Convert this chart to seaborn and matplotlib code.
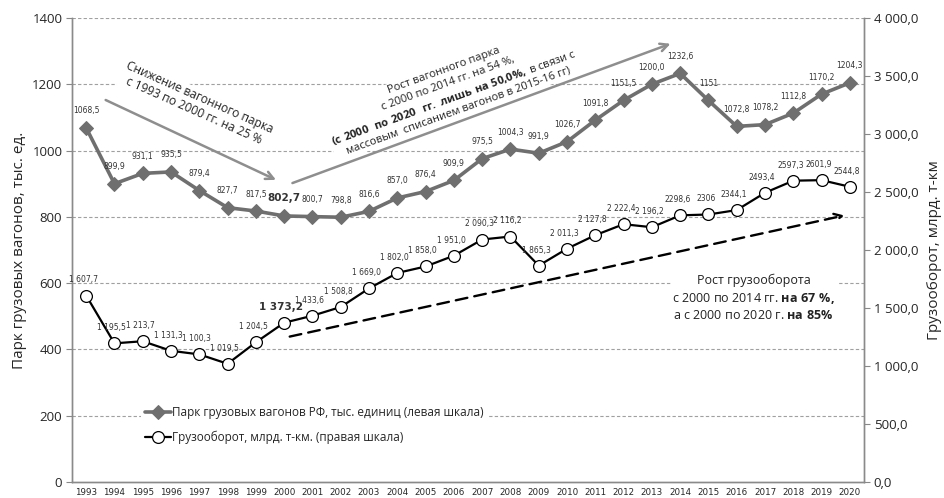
import numpy as np
import pandas as pd
import matplotlib
matplotlib.use("Agg")
import matplotlib.pyplot as plt
import seaborn as sns
from matplotlib.ticker import FuncFormatter

# --- data ---
years = list(range(1993, 2021))
fleet = [1068.5, 899.9, 931.1, 935.5, 879.4, 827.7, 817.5, 802.7, 800.7, 798.8,
         816.6, 857.0, 876.4, 909.9, 975.5, 1004.3, 991.9, 1026.7, 1091.8, 1151.5,
         1200.0, 1232.6, 1151.0, 1072.8, 1078.2, 1112.8, 1170.2, 1204.3]
turnover = [1607.7, 1195.5, 1213.7, 1131.3, 1100.3, 1019.5, 1204.5, 1373.2, 1433.6, 1508.8,
            1669.0, 1802.0, 1858.0, 1951.0, 2090.3, 2116.2, 1865.3, 2011.3, 2127.8, 2222.4,
            2196.2, 2298.6, 2306.0, 2344.1, 2493.4, 2597.3, 2601.9, 2544.8]
fleet_labels = ["1068,5", "899,9", "931,1", "935,5", "879,4", "827,7", "817,5", "802,7",
                "800,7", "798,8", "816,6", "857,0", "876,4", "909,9", "975,5", "1004,3",
                "991,9", "1026,7", "1091,8", "1151,5", "1200,0", "1232,6", "1151", "1072,8",
                "1078,2", "1112,8", "1170,2", "1204,3"]
turnover_labels = ["1 607,7", "1 195,5", "1 213,7", "1 131,3", "1 100,3", "1 019,5", "1 204,5",
                   "1 373,2", "1 433,6", "1 508,8", "1 669,0", "1 802,0", "1 858,0", "1 951,0",
                   "2 090,3", "2 116,2", "1 865,3", "2 011,3", "2 127,8", "2 222,4", "2 196,2",
                   "2298,6", "2306", "2344,1", "2493,4", "2597,3", "2601,9", "2544,8"]

df = pd.DataFrame({"year": years, "fleet": fleet, "turnover": turnover})

sns.set_style("white")
plt.rcParams["font.family"] = ["Open Sans", "DejaVu Sans"]
plt.rcParams["mathtext.fontset"] = "custom"
plt.rcParams["mathtext.rm"] = "Open Sans"
plt.rcParams["mathtext.bf"] = "Open Sans:bold"

fig = plt.figure(figsize=(9.44, 4.98), dpi=100)
ax = fig.add_axes([0.0763, 0.032, 0.839, 0.932])
ax2 = ax.twinx()

GRAY = "#6f6f6f"
ARROW_GRAY = "#8e8e8e"

# gridlines (left scale)
for v in range(200, 1401, 200):
    ax.axhline(v, color="#a0a0a0", lw=0.8, ls=(0, (3, 2)), zorder=0)

sns.lineplot(data=df, x="year", y="fleet", ax=ax, color=GRAY, lw=2.6, marker="D",
             markersize=7, markeredgecolor=GRAY, label="Парк грузовых вагонов РФ, тыс. единиц (левая шкала)",
             legend=False, zorder=3)
sns.lineplot(data=df, x="year", y="turnover", ax=ax2, color="black", lw=1.6, marker="o",
             markersize=8.5, markerfacecolor="white", markeredgecolor="black", markeredgewidth=0.9,
             label="Грузооборот, млрд. т-км. (правая шкала)", legend=False, zorder=3)

ax.set_xlim(1992.5, 2020.5)
ax.set_ylim(0, 1400)
ax2.set_ylim(0, 4000)

# value labels
for x, y, s in zip(years, fleet, fleet_labels):
    bold = s == "802,7"
    ax.annotate(s, (x, y), xytext=(0, 9), textcoords="offset points", ha="center", va="bottom",
                fontsize=7.5 if bold else 5.5, fontweight="bold" if bold else "normal",
                family="DejaVu Sans", color="#333333", zorder=5)
for x, y, s in zip(years, turnover, turnover_labels):
    bold = s == "1 373,2"
    ax2.annotate(s, (x, y), xytext=(-2, 8), textcoords="offset points", ha="center", va="bottom",
                 fontsize=7.5 if bold else 5.5, fontweight="bold" if bold else "normal",
                 family="DejaVu Sans", color="#333333", zorder=5)

# axes styling
ax.set_xticks(years)
ax.set_xticklabels([str(y) for y in years], fontsize=6.3, family="DejaVu Sans")
ax.set_xticks(np.arange(1992.5, 2021, 1), minor=True)
ax.tick_params(axis="x", which="major", length=0, pad=4)
ax.tick_params(axis="x", which="minor", length=4, color="#888888", direction="out")
ax.set_yticks(range(0, 1401, 200))
ax.tick_params(axis="y", labelsize=9.5, length=4, color="#888888", direction="out", pad=3)
ax2.set_yticks(range(0, 4001, 500))
ax2.yaxis.set_major_formatter(FuncFormatter(lambda v, p: f"{v:,.1f}".replace(",", " ").replace(".", ",")))
ax2.tick_params(axis="y", labelsize=9.5, length=4, color="#888888", direction="out", pad=3)
ax.set_xlabel("")
ax.set_ylabel("Парк грузовых вагонов, тыс. ед.", fontsize=11, labelpad=4)
ax2.set_ylabel("Грузооборот, млрд. т-км", fontsize=11, labelpad=6)
for a in (ax, ax2):
    a.spines["top"].set_visible(False)
    for sp in ("left", "right", "bottom"):
        a.spines[sp].set_color("#8a8a8a")
        a.spines[sp].set_linewidth(1.0)

# arrows
ax.annotate("", xy=(1999.8, 908), xytext=(1993.6, 1156),
            arrowprops=dict(arrowstyle="->", color=ARROW_GRAY, lw=1.8, mutation_scale=14), zorder=4)
ax.annotate("", xy=(2013.75, 1325), xytext=(2000.2, 899),
            arrowprops=dict(arrowstyle="->", color=ARROW_GRAY, lw=1.8, mutation_scale=14), zorder=4)
ax.annotate("", xy=(2019.9, 806), xytext=(2000.1, 437),
            arrowprops=dict(arrowstyle="->", color="black", lw=1.7, ls=(0, (5, 3)), mutation_scale=14),
            zorder=4)

box = dict(facecolor="white", edgecolor="none", pad=1)
ax.text(1996.9, 1140, "Снижение вагонного парка\nс 1993 по 2000 гг. на 25 %", rotation=-24,
        rotation_mode="anchor", ha="center", va="center", fontsize=8.6, color="#222222",
        linespacing=1.2, bbox=box, zorder=2)

txt2 = ("Рост вагонного парка\n"
        "с 2000 по 2014 гг. на 54 %,\n"
        r"$\bf{(с\ 2000\ \ по\ 2020\ \ гг.\ лишь\ на\ 50{,}0\%,}$ в связи с" "\n"
        "массовым  списанием вагонов в 2015-16 гг)")
ax.text(2005.9, 1180, txt2, rotation=20, rotation_mode="anchor", ha="center", va="center",
        fontsize=8, color="#222222", linespacing=1.3, multialignment="center", bbox=box, zorder=2)

txt3 = ("Рост грузооборота\n"
        r"с 2000 по 2014 гг. $\bf{на\ 67\ \%,}$" "\n"
        r"а с 2000 по 2020 г. $\bf{на\ 85\%}$")
ax.text(2016.6, 555, txt3, ha="center", va="center", fontsize=9, color="#222222",
        linespacing=1.35, multialignment="center", bbox=box, zorder=2)

# legend
h1, l1 = ax.get_legend_handles_labels()
h2, l2 = ax2.get_legend_handles_labels()
leg = ax2.legend(h1 + h2, l1 + l2, loc="upper left", bbox_to_anchor=(0.08, 0.185), fontsize=8.5,
                 frameon=True, handlelength=2.2, handletextpad=0.1, borderpad=0.3, labelspacing=1.0)
leg.get_frame().set_edgecolor("none")
leg.get_frame().set_facecolor("white")
leg.get_frame().set_alpha(1)

fig.savefig("out.png", dpi=100)
